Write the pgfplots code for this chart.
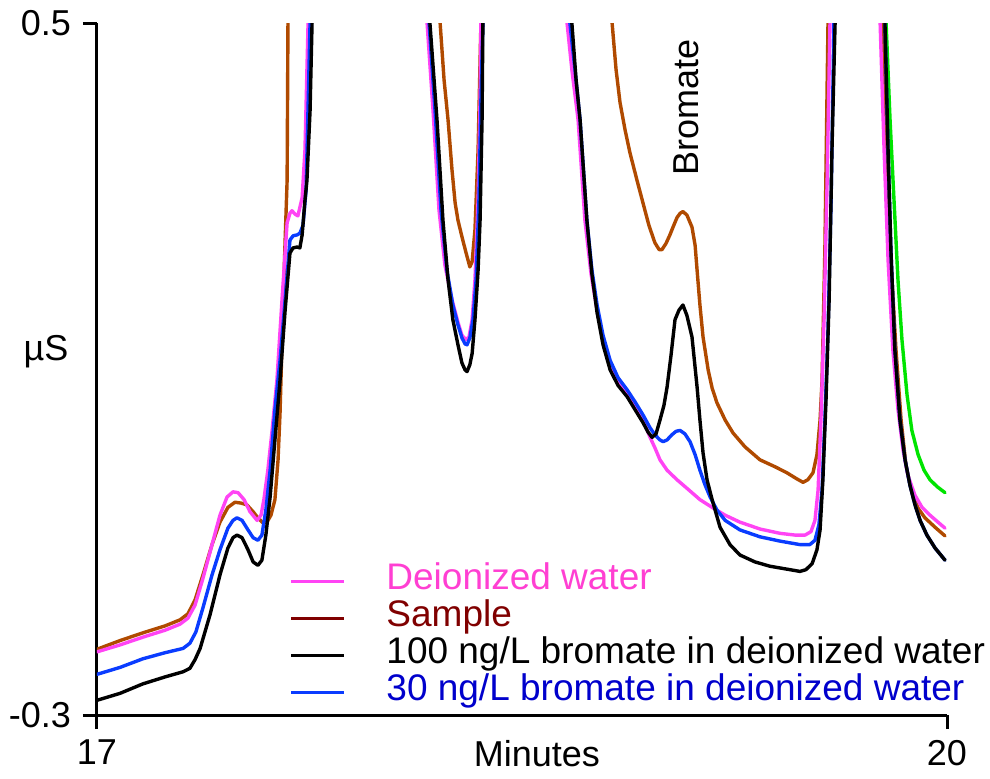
\documentclass[border=0pt]{standalone}
\usepackage{fontspec}
\setmainfont{Liberation Sans}
\usepackage{pgfplots}
\pgfplotsset{compat=1.18}

\definecolor{dwpink}{HTML}{FF44F4}
\definecolor{dwtext}{HTML}{FF3FD2}
\definecolor{smpbrown}{HTML}{B04A00}
\definecolor{smptext}{HTML}{800000}
\definecolor{bluecurve}{HTML}{0A3CFF}
\definecolor{bluetext}{HTML}{0000CC}
\definecolor{greencurve}{HTML}{00E400}

\tikzset{trace/.style={line width=1.7pt, line join=round, line cap=round}}

\begin{document}
\begin{tikzpicture}
\useasboundingbox (-48.5pt,-31.5pt) rectangle (446.5pt,357.5pt);
\begin{axis}[
  scale only axis, width=425pt, height=346pt,
  xmin=17, xmax=20, ymin=-0.3, ymax=0.5,
  axis lines=left,
  axis line style={line width=1.5pt, -},
  xtick={17,20}, xticklabels={17,20},
  ytick={-0.3,0.5}, yticklabels={-0.3,0.5},
  tick align=outside, major tick length=7pt,
  tick style={line width=1.5pt, black},
  ticklabel style={font=\fontsize{18}{18}\selectfont},
  xticklabel style={yshift=-2pt},
  yticklabel style={xshift=-2.5pt},
  xlabel={Minutes},
  xlabel style={font=\fontsize{18}{18}\selectfont, at={(axis description cs:0.5176,0)}, anchor=north, yshift=-9pt},
  ylabel={µS},
  ylabel style={font=\fontsize{18}{18}\selectfont, rotate=-90, at={(axis description cs:-0.06,0.5245)}, anchor=center},
  clip mode=individual,
  legend cell align=left,
  legend style={at={(axis cs:17.681,-0.122)}, anchor=north west, draw=none, fill=none,
    inner sep=0pt, outer sep=0pt, row sep=0pt,
    font=\fontsize{18.5}{18.5}\selectfont,
    nodes={inner sep=0pt, text height=14pt, text depth=4.5pt}},
  legend image code/.code={
    \draw[#1, line width=1.5pt] (0pt,-1pt) -- (26.5pt,-1pt);
    \path[draw=none, fill=none] (0pt,0pt) -- (47.5pt,0pt);},
]

% legend entries
\addlegendimage{dwpink}
\addlegendentry{\textcolor{dwtext}{Deionized water}}
\addlegendimage{smptext}
\addlegendentry{\textcolor{smptext}{Sample}}
\addlegendimage{black}
\addlegendentry{100 ng/L bromate in deionized water}
\addlegendimage{bluecurve}
\addlegendentry{\textcolor{bluetext}{30 ng/L bromate in deionized water}}

% unlabelled trace at the right edge
\addplot[trace, greencurve, forget plot] coordinates {
(19.75,0.65) (19.781,0.596) (19.785,0.5) (19.799,0.388) (19.813,0.295) (19.827,0.203)
(19.841,0.134) (19.859,0.070) (19.876,0.029) (19.898,0.001) (19.919,-0.017)
(19.940,-0.028) (19.965,-0.036) (19.993,-0.043)
};

% Sample
\addplot[trace, smpbrown, forget plot] coordinates {
(17.000,-0.224) (17.081,-0.214) (17.162,-0.205) (17.240,-0.197) (17.293,-0.190)
(17.321,-0.183) (17.346,-0.167) (17.374,-0.138) (17.406,-0.103) (17.434,-0.077)
(17.462,-0.060) (17.487,-0.054) (17.508,-0.055) (17.529,-0.057) (17.551,-0.065)
(17.568,-0.072) (17.586,-0.078) (17.600,-0.077) (17.614,-0.069) (17.628,-0.051)
(17.639,-0.005) (17.646,0.049) (17.656,0.165) (17.664,0.249) (17.671,0.318)
(17.674,0.5) (17.674,0.596) (17.68,0.65) (18.20,0.65)
(18.207,0.596) (18.211,0.5) (18.225,0.434) (18.239,0.388) (18.253,0.330)
(18.264,0.292) (18.274,0.272) (18.288,0.253) (18.302,0.235) (18.316,0.218)
(18.324,0.224) (18.334,0.261) (18.345,0.353) (18.355,0.5) (18.359,0.596)
(18.36,0.65) (18.81,0.65)
(18.814,0.596) (18.818,0.5) (18.832,0.446) (18.846,0.408) (18.864,0.376)
(18.881,0.350) (18.906,0.318) (18.927,0.292) (18.948,0.266) (18.969,0.246)
(18.984,0.238) (18.994,0.238) (19.008,0.245) (19.022,0.255) (19.033,0.264)
(19.047,0.275) (19.058,0.280) (19.068,0.282) (19.082,0.278) (19.100,0.264)
(19.111,0.243) (19.118,0.214) (19.128,0.174) (19.139,0.137) (19.157,0.099)
(19.171,0.078) (19.188,0.061) (19.217,0.041) (19.245,0.026) (19.287,0.010)
(19.340,-0.005) (19.393,-0.013) (19.435,-0.020) (19.470,-0.027) (19.492,-0.031)
(19.509,-0.028) (19.527,-0.020) (19.541,0.001) (19.552,0.041) (19.559,0.087)
(19.569,0.238) (19.580,0.5) (19.584,0.596) (19.59,0.65) (19.77,0.65)
(19.771,0.596) (19.774,0.5) (19.788,0.353) (19.802,0.226) (19.820,0.122)
(19.838,0.041) (19.855,-0.011) (19.876,-0.043) (19.898,-0.061) (19.922,-0.072)
(19.958,-0.083) (19.993,-0.093)
};

% Deionized water
\addplot[trace, dwpink, forget plot] coordinates {
(17.000,-0.227) (17.081,-0.219) (17.162,-0.210) (17.240,-0.202) (17.293,-0.195)
(17.321,-0.188) (17.346,-0.173) (17.374,-0.142) (17.406,-0.103) (17.434,-0.069)
(17.459,-0.048) (17.480,-0.042) (17.498,-0.043) (17.519,-0.051) (17.540,-0.065)
(17.565,-0.075) (17.579,-0.069) (17.589,-0.051) (17.603,-0.017) (17.618,0.029)
(17.635,0.087) (17.653,0.180) (17.671,0.269) (17.681,0.280) (17.688,0.283)
(17.699,0.279) (17.709,0.277) (17.724,0.298) (17.734,0.353) (17.745,0.5)
(17.752,0.596) (17.76,0.65) (18.16,0.65)
(18.161,0.596) (18.165,0.5) (18.186,0.399) (18.207,0.284) (18.228,0.220)
(18.253,0.180) (18.274,0.154) (18.288,0.139) (18.302,0.134) (18.313,0.137)
(18.324,0.157) (18.334,0.203) (18.345,0.295) (18.352,0.411) (18.355,0.5)
(18.359,0.596) (18.36,0.65) (18.65,0.65)
(18.655,0.596) (18.659,0.5) (18.676,0.446) (18.698,0.388) (18.722,0.272)
(18.744,0.209) (18.765,0.168) (18.786,0.136) (18.811,0.108) (18.839,0.087)
(18.871,0.072) (18.899,0.058) (18.927,0.041) (18.952,0.021) (18.969,0.009)
(18.987,-0.005) (19.012,-0.017) (19.047,-0.028) (19.093,-0.041) (19.128,-0.051)
(19.171,-0.060) (19.217,-0.069) (19.269,-0.077) (19.340,-0.085) (19.411,-0.090)
(19.464,-0.092) (19.499,-0.092) (19.520,-0.088) (19.534,-0.075) (19.545,-0.040)
(19.555,0.041) (19.566,0.157) (19.577,0.318) (19.587,0.5) (19.591,0.596)
(19.60,0.65) (19.75,0.65)
(19.760,0.596) (19.764,0.5) (19.778,0.353) (19.792,0.226) (19.809,0.122)
(19.827,0.053) (19.845,0.006) (19.862,-0.023) (19.887,-0.046) (19.912,-0.060)
(19.940,-0.069) (19.968,-0.077) (19.993,-0.084)
};

% 30 ng/L bromate
\addplot[trace, bluecurve, forget plot] coordinates {
(17.000,-0.253) (17.081,-0.245) (17.162,-0.235) (17.240,-0.228) (17.304,-0.223)
(17.328,-0.217) (17.349,-0.204) (17.374,-0.176) (17.406,-0.138) (17.434,-0.109)
(17.462,-0.084) (17.480,-0.075) (17.494,-0.072) (17.512,-0.075) (17.533,-0.086)
(17.551,-0.095) (17.568,-0.098) (17.582,-0.092) (17.596,-0.063) (17.611,-0.017)
(17.628,0.053) (17.646,0.110) (17.664,0.180) (17.681,0.249) (17.692,0.254)
(17.706,0.255) (17.716,0.257) (17.727,0.266) (17.738,0.307) (17.752,0.5)
(17.759,0.596) (17.77,0.65) (18.16,0.65)
(18.168,0.596) (18.172,0.5) (18.193,0.399) (18.214,0.284) (18.235,0.214)
(18.256,0.174) (18.274,0.151) (18.288,0.136) (18.299,0.129) (18.306,0.128)
(18.316,0.136) (18.327,0.157) (18.338,0.203) (18.348,0.295) (18.355,0.411)
(18.362,0.5) (18.366,0.596) (18.37,0.65) (18.66,0.65)
(18.666,0.596) (18.669,0.5) (18.687,0.446) (18.705,0.388) (18.729,0.272)
(18.747,0.214) (18.765,0.174) (18.786,0.139) (18.811,0.110) (18.839,0.090)
(18.871,0.076) (18.899,0.062) (18.927,0.047) (18.952,0.032) (18.969,0.024)
(18.987,0.018) (18.998,0.016) (19.012,0.018) (19.029,0.024) (19.044,0.028)
(19.058,0.029) (19.075,0.025) (19.093,0.016) (19.111,0.001) (19.128,-0.017)
(19.146,-0.034) (19.164,-0.048) (19.188,-0.063) (19.217,-0.075) (19.269,-0.086)
(19.340,-0.094) (19.411,-0.099) (19.481,-0.103) (19.516,-0.103) (19.534,-0.098)
(19.548,-0.080) (19.559,-0.040) (19.569,0.041) (19.580,0.145) (19.591,0.295)
(19.601,0.5) (19.605,0.596) (19.61,0.65) (19.77,0.65)
(19.778,0.596) (19.781,0.5) (19.792,0.353) (19.802,0.238) (19.816,0.122)
(19.834,0.041) (19.852,-0.005) (19.869,-0.034) (19.887,-0.057) (19.905,-0.075)
(19.929,-0.092) (19.958,-0.107) (19.993,-0.121)
};

% 100 ng/L bromate
\addplot[trace, black, forget plot] coordinates {
(17.000,-0.283) (17.081,-0.275) (17.162,-0.264) (17.240,-0.256) (17.304,-0.250)
(17.328,-0.246) (17.346,-0.236) (17.364,-0.223) (17.399,-0.184) (17.434,-0.138)
(17.462,-0.107) (17.480,-0.095) (17.494,-0.092) (17.512,-0.095) (17.533,-0.109)
(17.551,-0.123) (17.568,-0.127) (17.582,-0.121) (17.596,-0.092) (17.611,-0.048)
(17.628,0.018) (17.646,0.087) (17.664,0.168) (17.681,0.234) (17.692,0.240)
(17.706,0.241) (17.716,0.240) (17.724,0.255) (17.734,0.295) (17.741,0.318)
(17.752,0.399) (17.759,0.5) (17.766,0.596) (17.77,0.65) (18.16,0.65)
(18.168,0.596) (18.175,0.5) (18.200,0.388) (18.221,0.272) (18.239,0.203)
(18.256,0.157) (18.274,0.128) (18.288,0.107) (18.299,0.099) (18.306,0.097)
(18.316,0.105) (18.324,0.118) (18.334,0.157) (18.345,0.214) (18.352,0.272)
(18.359,0.388) (18.362,0.5) (18.366,0.596) (18.37,0.65) (18.67,0.65)
(18.673,0.596) (18.676,0.5) (18.691,0.434) (18.705,0.388) (18.729,0.272)
(18.747,0.209) (18.765,0.165) (18.786,0.128) (18.811,0.099) (18.839,0.081)
(18.871,0.068) (18.899,0.053) (18.927,0.038) (18.945,0.027) (18.959,0.021)
(18.973,0.025) (18.987,0.041) (19.001,0.058) (19.012,0.079) (19.026,0.116)
(19.040,0.157) (19.054,0.168) (19.068,0.174) (19.082,0.162) (19.100,0.137)
(19.118,0.079) (19.128,0.041) (19.139,0.003) (19.153,-0.028) (19.171,-0.051)
(19.199,-0.083) (19.234,-0.103) (19.269,-0.115) (19.322,-0.123) (19.375,-0.128)
(19.446,-0.132) (19.481,-0.134) (19.502,-0.132) (19.524,-0.125) (19.541,-0.109)
(19.552,-0.086) (19.562,-0.028) (19.573,0.064) (19.584,0.180) (19.594,0.353)
(19.605,0.5) (19.608,0.596) (19.61,0.65) (19.77,0.65)
(19.778,0.596) (19.781,0.5) (19.792,0.353) (19.802,0.238) (19.816,0.122)
(19.834,0.041) (19.852,-0.005) (19.869,-0.034) (19.887,-0.057) (19.905,-0.075)
(19.929,-0.092) (19.958,-0.107) (19.993,-0.121)
};

\node[rotate=90, font=\fontsize{18}{18}\selectfont] at (axis cs:19.079,0.402) {Bromate};
\end{axis}
\end{tikzpicture}
\end{document}
